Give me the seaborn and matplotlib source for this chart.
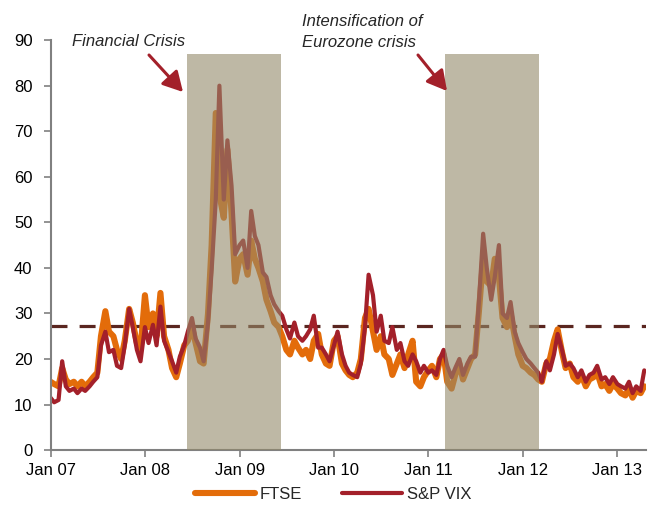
import pandas as pd
import matplotlib
matplotlib.use("Agg")
import matplotlib.pyplot as plt
import matplotlib.dates as mdates
import seaborn as sns

sns.set_theme(style='ticks')
plt.rcParams['font.family'] = ['Liberation Sans', 'DejaVu Sans']

# semi-monthly readings, Jan 2007 - Apr 2013
dates = pd.date_range('2007-01-01', periods=152, freq='SMS')

ftse = [15.0, 14.5, 14.0, 18.0, 15.5, 14.5, 15.0, 14.0, 15.0, 14.0, 15.0, 16.0,
        17.0, 25.0, 30.5, 26.0, 25.0, 22.0, 20.0, 24.0, 31.0, 28.0, 23.5, 22.0,
        34.0, 27.0, 30.0, 25.0, 34.5, 25.0, 22.0, 18.0, 16.0, 19.0, 23.0, 24.0,
        27.0, 23.5, 19.5, 19.0, 30.0, 45.0, 74.0, 56.0, 51.0, 66.0, 52.0, 37.0,
        42.0, 43.0, 38.5, 46.0, 42.0, 40.0, 37.0, 33.0, 30.5, 28.0, 27.0, 25.0,
        22.0, 21.0, 24.0, 22.5, 21.0, 22.0, 20.0, 24.0, 25.5, 21.0, 19.0, 18.5,
        24.0, 25.0, 19.0, 17.5, 16.5, 16.0, 17.0, 20.0, 29.0, 31.0, 26.0, 22.0,
        25.0, 21.0, 20.0, 16.5, 19.0, 21.0, 18.0, 21.0, 24.0, 15.0, 14.0, 16.0,
        17.5, 18.5, 16.0, 20.0, 21.0, 15.0, 13.5, 16.5, 19.0, 15.5, 18.0, 20.0,
        21.0, 30.0, 42.0, 37.0, 36.0, 42.0, 38.0, 29.0, 27.0, 30.0, 25.0, 21.0,
        18.5, 18.0, 17.0, 16.5, 15.5, 15.0, 19.0, 20.0, 24.0, 26.5, 21.5, 18.0,
        19.0, 16.0, 15.0, 16.5, 14.0, 15.5, 16.0, 17.0, 14.0, 14.5, 13.0, 14.5,
        13.5, 12.5, 12.0, 13.5, 11.5, 13.0, 12.5, 14.0]

vix = [11.5, 10.5, 11.0, 19.5, 14.0, 13.0, 13.5, 12.5, 13.5, 13.0, 14.0, 15.0,
       16.0, 23.0, 26.0, 21.5, 22.0, 18.5, 18.0, 23.0, 31.0, 27.0, 22.0, 19.5,
       27.0, 23.5, 27.5, 23.0, 31.5, 24.0, 21.5, 19.5, 17.0, 20.5, 23.0, 26.0,
       29.0, 24.5, 22.5, 19.5, 28.0, 39.5, 55.0, 80.0, 55.0, 68.0, 58.0, 43.0,
       45.0, 46.0, 40.0, 52.5, 47.0, 45.0, 39.0, 38.0, 34.0, 32.0, 30.5, 29.5,
       26.5, 24.5, 28.0, 25.0, 24.0, 25.0, 26.5, 29.5, 22.5, 22.5, 21.0, 19.5,
       23.0, 26.0, 21.0, 18.5, 17.0, 16.5, 16.0, 19.0, 27.0, 38.5, 34.0, 26.0,
       29.5, 24.0, 23.5, 27.0, 22.0, 23.5, 19.5, 18.5, 21.0, 19.5, 17.0, 18.5,
       17.0, 17.5, 16.5, 20.0, 22.0, 18.5, 16.0, 18.0, 20.0, 16.5, 19.0, 20.5,
       20.5, 32.0, 47.5, 40.0, 33.0, 38.0, 45.0, 30.0, 29.0, 32.5, 26.0, 23.5,
       21.5, 20.0, 19.0, 18.0, 17.0, 15.0, 19.5, 17.5, 21.0, 25.5, 22.0, 18.5,
       19.0, 18.0, 16.0, 17.5, 15.0, 16.5, 17.0, 18.5, 15.5, 16.0, 14.5, 16.0,
       14.5, 14.0, 13.5, 15.0, 12.5, 14.0, 13.0, 17.5]

threshold = 27.3
crises = [('2008-06-10', '2009-06-10'), ('2011-03-05', '2012-03-05')]

df = pd.DataFrame({'date': dates, 'FTSE': ftse, 'S&P VIX': vix})

fig = plt.figure(figsize=(6.48, 5.08), dpi=100)
ax = fig.add_axes([0.078, 0.114, 0.919, 0.807])

sns.lineplot(data=df, x='date', y='FTSE', color='#E36C0A', linewidth=4.4, label='FTSE', ax=ax, zorder=2)
sns.lineplot(data=df, x='date', y='S&P VIX', color='#A3202A', linewidth=3.0, label='S&P VIX', ax=ax, zorder=2.1)
ax.axhline(threshold, color='#5A2620', linewidth=2.3, linestyle=(0, (5.0, 3.8)), zorder=1.5)

for start, end in crises:
    ax.axvspan(pd.Timestamp(start), pd.Timestamp(end), ymin=0, ymax=87 / 90,
               color='#938969', alpha=0.6, lw=0, zorder=3)

ax.set_ylim(0, 90)
ax.set_yticks(range(0, 91, 10))
ax.set_xlim(pd.Timestamp('2007-01-01'), pd.Timestamp('2013-04-22'))
ax.xaxis.set_major_locator(mdates.YearLocator())
ax.xaxis.set_major_formatter(mdates.DateFormatter('%b %y'))
ax.set_xlabel('')
ax.set_ylabel('')
ax.tick_params(axis='both', labelsize=12, colors='#808080', labelcolor='black', length=5, width=1.2)
ax.tick_params(axis='x', pad=4)
ax.tick_params(axis='y', pad=8)
for side in ['top', 'right']:
    ax.spines[side].set_visible(False)
for side in ['left', 'bottom']:
    ax.spines[side].set_color('#808080')
    ax.spines[side].set_linewidth(1.5)

ax.get_legend().remove()
handles, labels = ax.get_legend_handles_labels()
fig.legend(handles, labels, loc='lower center', bbox_to_anchor=(333 / 648, -0.018), ncol=2,
           frameon=False, fontsize=12, handlelength=3.6, handletextpad=0.3, columnspacing=2.4)

# annotations
arrow = dict(arrowstyle='-|>,head_length=1.0,head_width=0.55', color='#A3202A', lw=2.2, shrinkA=0, shrinkB=0)
fig.text(72 / 648, 1 - 42 / 508, 'Financial Crisis', style='italic', fontsize=12, va='center', ha='left')
fig.text(302 / 648, 1 - 32 / 508, 'Intensification of\nEurozone crisis', style='italic', fontsize=12,
         va='center', ha='left', linespacing=1.45)
ax.annotate('', xy=(183 / 648, 1 - 92 / 508), xytext=(149 / 648, 1 - 55 / 508),
            xycoords='figure fraction', textcoords='figure fraction', arrowprops=arrow, annotation_clip=False)
ax.annotate('', xy=(447 / 648, 1 - 91 / 508), xytext=(418 / 648, 1 - 55 / 508),
            xycoords='figure fraction', textcoords='figure fraction', arrowprops=arrow, annotation_clip=False)

plt.savefig('out.png', dpi=100)
